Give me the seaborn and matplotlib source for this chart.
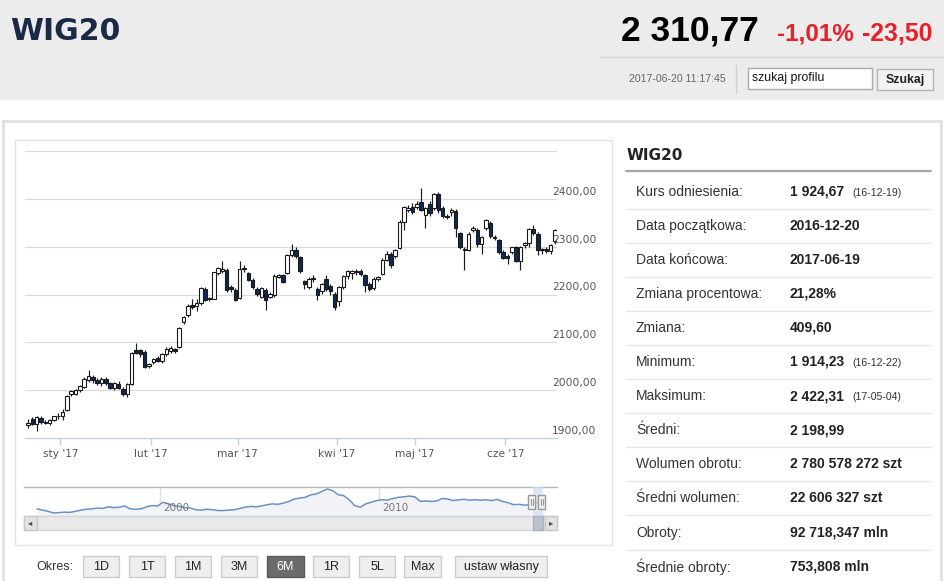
import numpy as np
import pandas as pd
import matplotlib
matplotlib.use("Agg")
import matplotlib.pyplot as plt
import seaborn as sns
from matplotlib.patches import Rectangle

# ---------------- data ----------------
opens = [1927, 1940, 1929, 1942, 1934, 1931, 1938, 1945, 1946, 1959,
         1991, 1993, 2000, 2007, 2022, 2027, 2021, 2014, 2024, 2015,
         2005, 2013, 2003, 1991, 2013, 2085, 2083, 2080, 2050, 2058,
         2068, 2060, 2076, 2082, 2086, 2090, 2142, 2158, 2179, 2177,
         2182, 2212, 2190, 2191, 2245, 2249, 2251, 2216, 2210, 2192,
         2253, 2244, 2231, 2211, 2195, 2210, 2195, 2198, 2237, 2240,
         2245, 2282, 2292, 2278, 2228, 2215, 2233, 2212, 2207, 2233,
         2218, 2202, 2186, 2215, 2238, 2244, 2250, 2250, 2240, 2222,
         2214, 2233, 2242, 2273, 2285, 2280, 2298, 2352, 2376, 2383,
         2382, 2393, 2366, 2389, 2380, 2410, 2380, 2364, 2372, 2375,
         2328, 2296, 2292, 2335, 2335, 2305, 2338, 2350, 2320, 2313,
         2288, 2280, 2288, 2299, 2271, 2304, 2308, 2336, 2326, 2292,
         2296, 2290, 2312]
highs = [1939, 1944, 1946, 1945, 1937, 1940, 1947, 1952, 1961, 1990,
         2001, 2003, 2011, 2027, 2043, 2032, 2025, 2028, 2027, 2018,
         2018, 2020, 2006, 2014, 2080, 2099, 2087, 2083, 2057, 2068,
         2072, 2077, 2090, 2092, 2089, 2132, 2156, 2180, 2190, 2190,
         2216, 2216, 2195, 2247, 2258, 2270, 2256, 2220, 2213, 2270,
         2262, 2248, 2234, 2215, 2216, 2214, 2206, 2242, 2243, 2243,
         2285, 2306, 2300, 2280, 2231, 2236, 2240, 2216, 2224, 2240,
         2222, 2205, 2217, 2240, 2252, 2252, 2254, 2254, 2243, 2226,
         2236, 2238, 2276, 2290, 2288, 2295, 2355, 2386, 2388, 2392,
         2395, 2422, 2382, 2395, 2413, 2414, 2385, 2368, 2380, 2378,
         2331, 2300, 2330, 2343, 2338, 2323, 2358, 2353, 2324, 2316,
         2292, 2284, 2300, 2302, 2302, 2310, 2340, 2346, 2330, 2298,
         2300, 2306, 2336]
lows = [1921, 1927, 1914, 1930, 1929, 1927, 1935, 1940, 1937, 1957,
        1987, 1990, 1996, 2004, 2018, 2016, 2011, 2009, 2011, 2002,
        2001, 2002, 1988, 1985, 2011, 2075, 2070, 2046, 2047, 2055,
        2058, 2057, 2072, 2078, 2078, 2088, 2138, 2153, 2170, 2165,
        2179, 2186, 2186, 2190, 2240, 2245, 2206, 2206, 2187, 2190,
        2248, 2228, 2212, 2197, 2193, 2167, 2192, 2195, 2234, 2224,
        2243, 2279, 2276, 2244, 2212, 2212, 2226, 2188, 2202, 2208,
        2200, 2167, 2175, 2212, 2232, 2233, 2240, 2238, 2205, 2207,
        2210, 2228, 2240, 2270, 2255, 2276, 2295, 2335, 2372, 2368,
        2378, 2375, 2340, 2365, 2376, 2370, 2360, 2358, 2365, 2320,
        2295, 2252, 2290, 2330, 2300, 2285, 2335, 2318, 2314, 2285,
        2274, 2264, 2285, 2268, 2252, 2298, 2300, 2325, 2283, 2284,
        2286, 2284, 2305]
closes = [1931, 1929, 1943, 1934, 1931, 1938, 1945, 1947, 1954, 1988,
          1998, 2000, 2009, 2024, 2030, 2021, 2016, 2024, 2014, 2005,
          2015, 2005, 1991, 2012, 2078, 2078, 2076, 2048, 2055, 2066,
          2060, 2075, 2087, 2089, 2082, 2130, 2152, 2176, 2174, 2182,
          2213, 2188, 2193, 2246, 2255, 2254, 2209, 2211, 2189, 2253,
          2255, 2231, 2216, 2200, 2213, 2189, 2202, 2239, 2240, 2227,
          2282, 2294, 2280, 2250, 2221, 2233, 2235, 2198, 2222, 2212,
          2207, 2174, 2215, 2238, 2250, 2250, 2246, 2242, 2219, 2212,
          2233, 2236, 2273, 2284, 2261, 2292, 2352, 2383, 2380, 2372,
          2390, 2377, 2380, 2370, 2411, 2377, 2364, 2363, 2376, 2338,
          2299, 2292, 2327, 2340, 2306, 2320, 2355, 2323, 2318, 2288,
          2277, 2276, 2299, 2271, 2299, 2308, 2336, 2329, 2292, 2296,
          2290, 2303, 2334]
holidays = ["2016-12-26", "2017-01-06", "2017-04-14", "2017-04-17",
            "2017-05-01", "2017-05-03", "2017-06-15"]
month_labels = ["sty '17", "lut '17", "mar '17", "kwi '17", "maj '17", "cze '17"]
y_levels = [1900, 2000, 2100, 2200, 2300, 2400]
y_tick_labels = ["1900,00", "2000,00", "2100,00", "2200,00", "2300,00", "2400,00"]

nav_years = [1994.25, 1994.5, 1994.75, 1995.0, 1995.25, 1995.5, 1995.75, 1996.0,
             1996.25, 1996.5, 1996.75, 1997.0, 1997.25, 1997.5, 1997.75, 1998.0,
             1998.25, 1998.5, 1998.75, 1999.0, 1999.25, 1999.5, 1999.75, 2000.0,
             2000.25, 2000.5, 2000.75, 2001.0, 2001.25, 2001.5, 2001.75, 2002.0,
             2002.25, 2002.5, 2002.75, 2003.0, 2003.25, 2003.5, 2003.75, 2004.0,
             2004.25, 2004.5, 2004.75, 2005.0, 2005.25, 2005.5, 2005.75, 2006.0,
             2006.25, 2006.5, 2006.75, 2007.0, 2007.25, 2007.5, 2007.75, 2008.0,
             2008.25, 2008.5, 2008.75, 2009.0, 2009.25, 2009.5, 2009.75, 2010.0,
             2010.25, 2010.5, 2010.75, 2011.0, 2011.25, 2011.5, 2011.75, 2012.0,
             2012.25, 2012.5, 2012.75, 2013.0, 2013.25, 2013.5, 2013.75, 2014.0,
             2014.25, 2014.5, 2014.75, 2015.0, 2015.25, 2015.5, 2015.75, 2016.0,
             2016.25, 2016.5, 2016.75, 2017.0, 2017.25, 2017.46]
nav_values = [1300, 1150, 1000, 800, 850, 900, 880, 1000,
              1150, 1250, 1300, 1400, 1350, 1550, 1450, 1500,
              1650, 1300, 1250, 1300, 1550, 1700, 1650, 2100,
              1900, 1700, 1600, 1450, 1400, 1200, 1150, 1250,
              1200, 1100, 1100, 1150, 1200, 1350, 1500, 1600,
              1550, 1650, 1800, 1900, 1850, 2000, 2200, 2500,
              2600, 2700, 3000, 3100, 3400, 3700, 3500, 3000,
              2900, 2400, 1700, 1500, 1900, 2100, 2300, 2400,
              2350, 2550, 2700, 2750, 2850, 2750, 2200, 2250,
              2200, 2250, 2550, 2500, 2300, 2400, 2450, 2350,
              2400, 2350, 2400, 2300, 2450, 2200, 2050, 1800,
              1850, 1750, 1800, 2000, 2150, 2330]
nav_tick_years = [2000, 2010]

header_title = "WIG20"
last_price = "2 310,77"
change_pct = "-1,01%"
change_abs = "-23,50"
timestamp = "2017-06-20 11:17:45"

table_labels = ["Kurs odniesienia:", "Data początkowa:", "Data końcowa:",
                "Zmiana procentowa:", "Zmiana:", "Minimum:", "Maksimum:",
                "Średni:", "Wolumen obrotu:", "Średni wolumen:", "Obroty:",
                "Średnie obroty:"]
table_values = ["1 924,67", "2016-12-20", "2017-06-19", "21,28%", "409,60",
                "1 914,23", "2 422,31", "2 198,99", "2 780 578 272 szt",
                "22 606 327 szt", "92 718,347 mln", "753,808 mln"]
table_notes = ["(16-12-19)", "", "", "", "", "(16-12-22)", "(17-05-04)",
               "", "", "", "", ""]
button_labels = ["1D", "1T", "1M", "3M", "6M", "1R", "5L", "Max", "ustaw własny"]
button_x = [(83, 119), (129, 165), (175, 211), (221, 257), (267, 304),
            (313, 349), (359, 395), (404, 441), (455, 547)]
selected_button = "6M"

# ---------------- frame ----------------
sns.set_theme(style="white")
plt.rcParams['font.family'] = ['DejaVu Sans']
SANS = ['Liberation Sans', 'DejaVu Sans']

W, H = 945, 581
fig = plt.figure(figsize=(W / 100, H / 100), dpi=100)
fig.patch.set_facecolor('white')


def ax_px(x0, y0, x1, y1, z=1):
    a = fig.add_axes([x0 / W, 1 - y1 / H, (x1 - x0) / W, (y1 - y0) / H])
    a.set_zorder(z)
    return a


bg = ax_px(0, 0, W, H, z=0)
bg.set_xlim(0, W)
bg.set_ylim(H, 0)
bg.axis('off')

# header band
bg.add_patch(Rectangle((0, 0), W, 100, color='#ececec', lw=0))
bg.plot([600, W], [57, 57], color='#d6d6d6', lw=1)
bg.text(10, 31, header_title, fontsize=21.5, fontweight='bold', color='#1a2946',
        va='center', ha='left')
bg.text(621, 31, last_price, fontsize=25.5, fontweight='bold', color='black',
        va='center', ha='left', family=SANS)
bg.text(777, 34, change_pct, fontsize=17.5, fontweight='bold', color='#e8202a',
        va='center', ha='left', family=SANS)
bg.text(862, 34, change_abs, fontsize=17.8, fontweight='bold', color='#e8202a',
        va='center', ha='left', family=SANS)
bg.text(629, 79, timestamp, fontsize=7.6, color='#666666', va='center', ha='left',
        family=SANS)
bg.plot([736, 736], [65, 93], color='#d0d0d0', lw=1)
bg.add_patch(Rectangle((748, 68), 124, 21, facecolor='white', edgecolor='#a9a9a9', lw=1))
bg.text(752, 78.5, "szukaj profilu", fontsize=8.8, color='#111111', va='center',
        ha='left', family=SANS)
bg.add_patch(Rectangle((877, 69), 56, 21, facecolor='#f3f3f3', edgecolor='#b5b5b5', lw=1))
bg.text(905, 80, "Szukaj", fontsize=8.8, fontweight='bold', color='#222222',
        va='center', ha='center', family=SANS)

# panel borders
bg.add_patch(Rectangle((3, 121), 938, 500, facecolor='white', edgecolor='#e0e0e0', lw=2))
bg.add_patch(Rectangle((15, 140), 597, 405, facecolor='white', edgecolor='#e2e2e2', lw=1))

# right table
bg.text(627, 155, "WIG20", fontsize=11, fontweight='bold', color='#222222',
        va='center', ha='left')
bg.plot([626, 931], [171, 171], color='#a8a8a8', lw=1.6)
for k, (lab, val, note) in enumerate(zip(table_labels, table_values, table_notes)):
    yy = 191.5 + 34.1 * k
    bg.text(636, yy, lab, fontsize=10, color='#333333', va='center', ha='left', family=SANS)
    bg.text(790, yy, val, fontsize=10, fontweight='bold', color='#222222', va='center',
            ha='left', family=SANS)
    if note:
        bg.text(852, yy + 1, note, fontsize=7.6, color='#333333', va='center', ha='left',
                family=SANS)
    if yy + 17 < H:
        bg.plot([626, 931], [yy + 17, yy + 17], color='#e6e6e6', lw=1)

# buttons
bg.text(36, 567, "Okres:", fontsize=9, color='#333333', va='center', ha='left', family=SANS)
for lab, (x0, x1) in zip(button_labels, button_x):
    sel = lab == selected_button
    bg.add_patch(Rectangle((x0, 556), x1 - x0, 21,
                           facecolor='#6b6b6b' if sel else '#eeeeee',
                           edgecolor='#5a5a5a' if sel else '#cccccc', lw=1))
    bg.text((x0 + x1) / 2, 567, lab, fontsize=9, color='white' if sel else '#222222',
            va='center', ha='center', family=SANS)

# ---------------- candlestick chart ----------------
dates = pd.bdate_range("2016-12-20", "2017-06-19")
dates = dates[~dates.isin(pd.to_datetime(holidays))]
df = pd.DataFrame(dict(date=dates, open=opens, high=highs, low=lows, close=closes))
df['idx'] = np.arange(len(df))
df['bull'] = df['close'] >= df['open']
month_first = df[df.date >= "2017-01-01"].groupby(df.date.dt.to_period('M'))['idx'].min()

ax = ax_px(25, 151, 557, 438, z=1)
ax.set_facecolor('none')
ax.set_xlim(-0.7, 122.45)
ax.set_ylim(1900, 2500)
ax.set_yticks([2000, 2100, 2200, 2300, 2400, 2500])
ax.yaxis.grid(True, color='#dadada', lw=0.9)
ax.xaxis.grid(False)
ax.tick_params(axis='y', length=0, labelleft=False)
for s in ['top', 'right', 'left']:
    ax.spines[s].set_visible(False)
ax.spines['bottom'].set_color('#c3d1e0')
ax.spines['bottom'].set_linewidth(1)

ax.vlines(df['idx'], df['low'], df['high'], color='#1a1a1a', lw=0.85, zorder=2)
body = np.maximum((df['close'] - df['open']).abs(), 1.5)
ax.bar(df['idx'], body, bottom=np.minimum(df['open'], df['close']), width=0.8,
       color=np.where(df['bull'], 'white', '#0e2a50'), edgecolor='#1a1a1a',
       linewidth=0.8, zorder=3)

ax.set_xticks(month_first.values - 0.5)
ax.set_xticklabels(month_labels)
ax.tick_params(axis='x', direction='out', length=5, width=1, color='#c3d1e0',
               labelcolor='#555555', labelsize=7.6, pad=3, bottom=True)
for v, lab in zip(y_levels, y_tick_labels):
    ax.annotate(lab, xy=(1, v), xycoords=('axes fraction', 'data'),
                xytext=(-5, 7), textcoords='offset pixels', fontsize=7.7,
                color='#555555', va='center', ha='left', annotation_clip=False)

# ---------------- navigator ----------------
nav = ax_px(24, 487, 557, 515, z=1)
nav.set_facecolor('none')
nav.set_xlim(1993.65, 2017.99)
nav.set_ylim(558, 3942)
nav.fill_between(nav_years, nav_values, 0, color='#f1f3f7', lw=0)
sns.lineplot(x=nav_years, y=nav_values, ax=nav, color='#6d8fc4', lw=1.1)
for yv in nav_tick_years:
    nav.axvline(yv - 0.15, color='#e0e0e0', lw=1, zorder=0)
    nav.annotate(str(yv), xy=(yv, 0), xycoords=('data', 'axes fraction'),
                 xytext=(0, 7), textcoords='offset pixels', fontsize=7.5,
                 color='#777777', va='center', ha='left')
nav.set_xticks([])
nav.set_yticks([])
nav.set_xlabel('')
nav.set_ylabel('')
for s in ['bottom', 'right', 'left']:
    nav.spines[s].set_visible(False)
nav.spines['top'].set_color('#b5b5b5')
nav.spines['top'].set_linewidth(1)

# overlay: scrollbar and handles
fg = ax_px(0, 0, W, H, z=2)
fg.set_xlim(0, W)
fg.set_ylim(H, 0)
fg.axis('off')
fg.patch.set_alpha(0)
fg.add_patch(Rectangle((24, 516), 533, 14, facecolor='#e9e9e9', edgecolor='#d4d4d4', lw=1))
fg.add_patch(Rectangle((24, 516), 13, 14, facecolor='#e2e2e2', edgecolor='#c8c8c8', lw=1))
fg.add_patch(Rectangle((545, 516), 12, 14, facecolor='#e2e2e2', edgecolor='#c8c8c8', lw=1))
fg.text(30.5, 523, "◂", fontsize=6, color='#444444', ha='center', va='center')
fg.text(551, 523, "▸", fontsize=6, color='#444444', ha='center', va='center')
fg.add_patch(Rectangle((533, 487), 10, 29, facecolor='#cfe1f6', alpha=0.7, lw=0))
fg.add_patch(Rectangle((533, 516), 10, 14, facecolor='#b9c3cd', edgecolor='#a9b3bd', lw=1))
for hx in (528, 538):
    fg.add_patch(Rectangle((hx, 495), 7, 14, facecolor='#f2f2f2', edgecolor='#999999', lw=1))
    fg.plot([hx + 2.5, hx + 2.5], [499, 505], color='#999999', lw=0.8)
    fg.plot([hx + 4.5, hx + 4.5], [499, 505], color='#999999', lw=0.8)

fig.savefig('out.png', dpi=100)
